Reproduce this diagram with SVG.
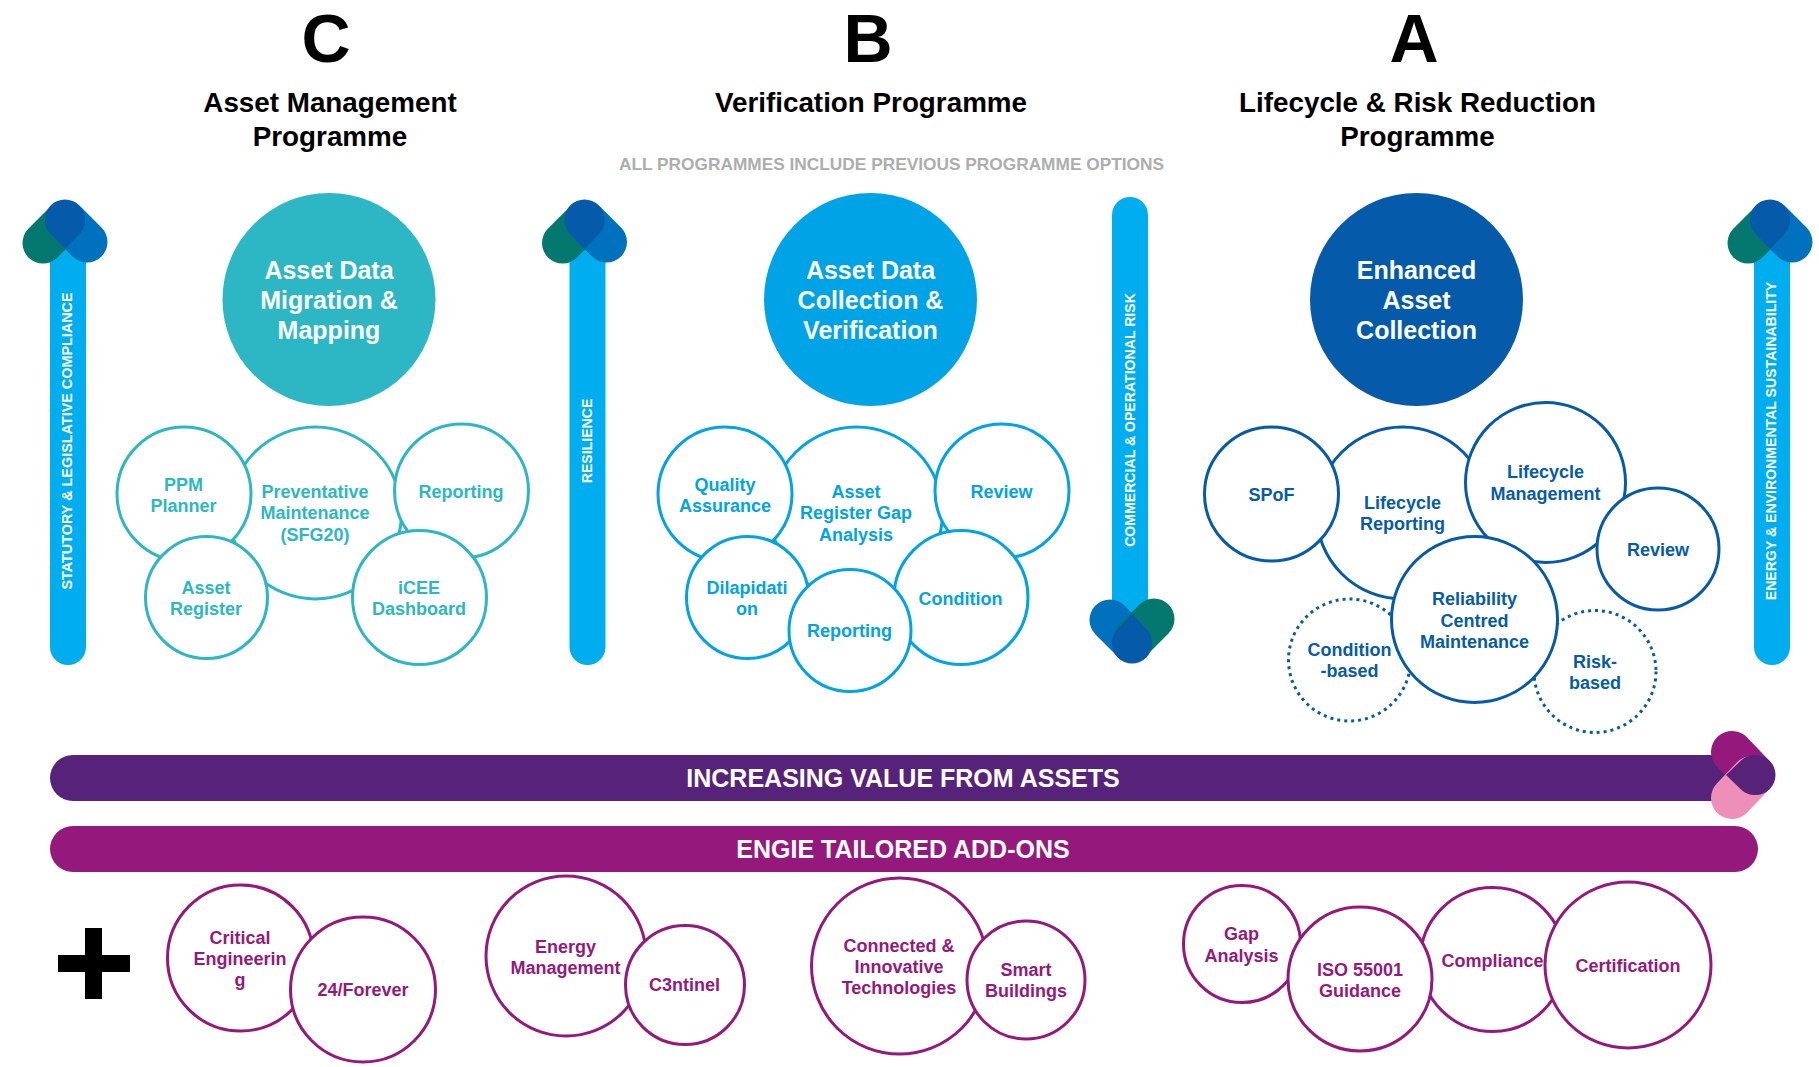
<svg xmlns="http://www.w3.org/2000/svg" width="1819" height="1067" viewBox="0 0 1819 1067">
<style>
text{font-family:"Liberation Sans",Arial,sans-serif;font-weight:700;text-anchor:middle}
.letter{font-size:68px;fill:#000}
.title{font-size:27.800px;fill:#000}
.big{font-size:25px;fill:#fff}
.lb{font-size:18px}
.vert{font-size:14.400px;fill:#fff}
.vs{font-size:14.100px;fill:#fff}
.band{font-size:25px;fill:#fff}
.c{fill:#fff;stroke-width:3}
.t{stroke:#2db7c4}.tt{fill:#2db7c4}
.b{stroke:#00a3e6}.bt{fill:#00a3e6}
.d{stroke:#055ba9}.dt{fill:#055ba9}
.m{stroke:#95197d}.mt{fill:#95197d}
.dot{stroke-dasharray:3 4}
</style>
<defs>
<g id="mark">
<path d="M-22 44L-2 24" fill="none" stroke="#04776f" stroke-width="41" stroke-linecap="round"/>
<path d="M22 43L2 23" fill="none" stroke="#0071bc" stroke-width="41" stroke-linecap="round"/>
<path d="M0 50L-14 35.500A20 20 0 0 1 -20 20.500A20 20 0 0 1 20 20.500A20 20 0 0 1 14 35.500Z" fill="#055ba9"/>
</g>
<g id="markd">
<path d="M-22 44L-2 24" fill="none" stroke="#0071bc" stroke-width="41" stroke-linecap="round"/>
<path d="M22 45L2 25" fill="none" stroke="#04776f" stroke-width="41" stroke-linecap="round"/>
<path d="M0 50L-14 35.500A20 20 0 0 1 -20 20.500A20 20 0 0 1 20 20.500A20 20 0 0 1 14 35.500Z" fill="#055ba9"/>
</g>
<g id="markp">
<path d="M-23 44L-2 24" fill="none" stroke="#95197d" stroke-width="42" stroke-linecap="round"/>
<path d="M23 44L2 24" fill="none" stroke="#ee8fb9" stroke-width="42" stroke-linecap="round"/>
<path d="M0 50L-14 35.500A20 20 0 0 1 -20 20.500A20 20 0 0 1 20 20.500A20 20 0 0 1 14 35.500Z" fill="#572279"/>
</g>
</defs>
<g id="headings">
<text class="letter" x="326" y="62">C</text><text class="letter" x="868" y="62">B</text><text class="letter" x="1414" y="62">A</text>
<text class="title" x="330" y="112">Asset Management</text><text class="title" x="330" y="146">Programme</text>
<text class="title" x="871" y="112">Verification Programme</text>
<text class="title" x="1417.500" y="112">Lifecycle &amp; Risk Reduction</text><text class="title" x="1417.500" y="146">Programme</text>
<text x="891.500" y="170" font-size="17.300" fill="#adadad">ALL PROGRAMMES INCLUDE PREVIOUS PROGRAMME OPTIONS</text>
</g>
<g id="connectors">
<rect x="50" y="230" width="36" height="435" rx="18" fill="#00aeef"/>
<use href="#mark" transform="translate(65,199)"/>
<rect x="569.500" y="230" width="36" height="435" rx="18" fill="#00aeef"/>
<use href="#mark" transform="translate(584.500,199)"/>
<rect x="1112" y="197" width="36" height="435" rx="18" fill="#00aeef"/>
<use href="#markd" transform="translate(1132,664) scale(1,-1)"/>
<rect x="1754" y="230" width="36" height="435" rx="18" fill="#00aeef"/>
<use href="#mark" transform="translate(1770,199)"/>
<rect x="50" y="755" width="1695" height="46" rx="23" fill="#572279"/>
<use href="#markp" transform="translate(1776,775) rotate(90)"/>
<rect x="50" y="826" width="1708" height="46" rx="23" fill="#95197d"/>
<text class="vert" transform="translate(72,441) rotate(-90)">STATUTORY &amp; LEGISLATIVE COMPLIANCE</text>
<text class="vs" transform="translate(592,441) rotate(-90)">RESILIENCE</text>
<text class="vs" transform="translate(1135,420) rotate(-90)">COMMERCIAL &amp; OPERATIONAL RISK</text>
<text class="vs" transform="translate(1776,441) rotate(-90)">ENERGY &amp; ENVIRONMENTAL SUSTAINABILITY</text>
<text class="band" x="903" y="787">INCREASING VALUE FROM ASSETS</text>
<text class="band" x="903" y="858">ENGIE TAILORED ADD-ONS</text>
<path d="M85 928h17v27h28v17h-28v27h-17v-27h-27v-17h27z" fill="#000"/>
</g>
<g id="n-c-main"><circle cx="329" cy="299.500" r="106.500" fill="#2db7c4"/><text class="big" x="329" y="279">Asset Data</text><text class="big" x="329" y="309">Migration &amp;</text><text class="big" x="329" y="339">Mapping</text></g>
<g id="n-pm"><circle class="c t" cx="315.500" cy="513" r="86"/><text class="lb tt" x="315" y="498">Preventative</text><text class="lb tt" x="315" y="519">Maintenance</text><text class="lb tt" x="315" y="541">(SFG20)</text></g>
<g id="n-ppm"><circle class="c t" cx="184" cy="494" r="67"/><text class="lb tt" x="183.500" y="491">PPM</text><text class="lb tt" x="183.500" y="512">Planner</text></g>
<g id="n-rep"><circle class="c t" cx="461.500" cy="491" r="67"/><text class="lb tt" x="461" y="498">Reporting</text></g>
<g id="n-ar"><circle class="c t" cx="206.500" cy="597.500" r="61"/><text class="lb tt" x="206" y="594">Asset</text><text class="lb tt" x="206" y="615">Register</text></g>
<g id="n-icee"><circle class="c t" cx="419.500" cy="597.500" r="67"/><text class="lb tt" x="419" y="594">iCEE</text><text class="lb tt" x="419" y="615">Dashboard</text></g>
<g id="n-b-main"><circle cx="870.500" cy="299.500" r="106.500" fill="#00a3e6"/><text class="big" x="870.500" y="279">Asset Data</text><text class="big" x="870.500" y="309">Collection &amp;</text><text class="big" x="870.500" y="339">Verification</text></g>
<g id="n-argap"><circle class="c b" cx="856.500" cy="513" r="86"/><text class="lb bt" x="856" y="498">Asset</text><text class="lb bt" x="856" y="519">Register Gap</text><text class="lb bt" x="856" y="541">Analysis</text></g>
<g id="n-qa"><circle class="c b" cx="725" cy="494" r="67"/><text class="lb bt" x="725" y="491">Quality</text><text class="lb bt" x="725" y="512">Assurance</text></g>
<g id="n-rev-b"><circle class="c b" cx="1002" cy="491" r="67"/><text class="lb bt" x="1001.500" y="498">Review</text></g>
<g id="n-dil"><circle class="c b" cx="747.500" cy="597.500" r="61"/><text class="lb bt" x="747" y="594">Dilapidati</text><text class="lb bt" x="747" y="615">on</text></g>
<g id="n-cond"><circle class="c b" cx="961" cy="597.500" r="67"/><text class="lb bt" x="960.500" y="605">Condition</text></g>
<g id="n-rep-b"><circle class="c b" cx="850" cy="630.500" r="61"/><text class="lb bt" x="849.500" y="637">Reporting</text></g>
<g id="n-a-main"><circle cx="1416.500" cy="299.500" r="106.500" fill="#055ba9"/><text class="big" x="1416.500" y="279">Enhanced</text><text class="big" x="1416.500" y="309">Asset</text><text class="big" x="1416.500" y="339">Collection</text></g>
<g id="n-cb"><circle class="c d dot" cx="1349.500" cy="660" r="61"/><text class="lb dt" x="1349.500" y="656">Condition</text><text class="lb dt" x="1349.500" y="677">-based</text></g>
<g id="n-rb"><circle class="c d dot" cx="1595" cy="671.500" r="61"/><text class="lb dt" x="1595" y="668">Risk-</text><text class="lb dt" x="1595" y="689">based</text></g>
<g id="n-lr"><circle class="c d" cx="1402.500" cy="513" r="86"/><text class="lb dt" x="1402.500" y="509">Lifecycle</text><text class="lb dt" x="1402.500" y="530">Reporting</text></g>
<g id="n-spof"><circle class="c d" cx="1271.500" cy="494" r="67"/><text class="lb dt" x="1271.500" y="501">SPoF</text></g>
<g id="n-lm"><circle class="c d" cx="1545.500" cy="482.500" r="80"/><text class="lb dt" x="1545.500" y="478">Lifecycle</text><text class="lb dt" x="1545.500" y="500">Management</text></g>
<g id="n-rev-a"><circle class="c d" cx="1658" cy="549" r="61"/><text class="lb dt" x="1658" y="556">Review</text></g>
<g id="n-rcm"><circle class="c d" cx="1474.500" cy="619.500" r="83"/><text class="lb dt" x="1474.500" y="605">Reliability</text><text class="lb dt" x="1474.500" y="627">Centred</text><text class="lb dt" x="1474.500" y="648">Maintenance</text></g>
<g id="n-crit"><circle class="c m" cx="240.500" cy="958" r="73"/><text class="lb mt" x="240" y="944">Critical</text><text class="lb mt" x="240" y="965">Engineerin</text><text class="lb mt" x="240" y="986">g</text></g>
<g id="n-24"><circle class="c m" cx="363" cy="989.500" r="72.500"/><text class="lb mt" x="363" y="996">24/Forever</text></g>
<g id="n-en"><circle class="c m" cx="566" cy="956" r="80"/><text class="lb mt" x="565.500" y="953">Energy</text><text class="lb mt" x="565.500" y="974">Management</text></g>
<g id="n-c3"><circle class="c m" cx="685" cy="985" r="59.500"/><text class="lb mt" x="684.500" y="991">C3ntinel</text></g>
<g id="n-ci"><circle class="c m" cx="899.500" cy="966" r="88"/><text class="lb mt" x="899" y="952">Connected &amp;</text><text class="lb mt" x="899" y="973">Innovative</text><text class="lb mt" x="899" y="994">Technologies</text></g>
<g id="n-sb"><circle class="c m" cx="1026" cy="980" r="59"/><text class="lb mt" x="1026" y="976">Smart</text><text class="lb mt" x="1026" y="997">Buildings</text></g>
<g id="n-gap"><circle class="c m" cx="1242" cy="944" r="58.500"/><text class="lb mt" x="1241.500" y="940">Gap</text><text class="lb mt" x="1241.500" y="962">Analysis</text></g>
<g id="n-comp"><circle class="c m" cx="1492.500" cy="959.500" r="72"/><text class="lb mt" x="1492.500" y="967">Compliance</text></g>
<g id="n-iso"><circle class="c m" cx="1360" cy="979" r="72"/><text class="lb mt" x="1360" y="976">ISO 55001</text><text class="lb mt" x="1360" y="997">Guidance</text></g>
<g id="n-cert"><circle class="c m" cx="1628" cy="965" r="83"/><text class="lb mt" x="1628" y="972">Certification</text></g>
</svg>
